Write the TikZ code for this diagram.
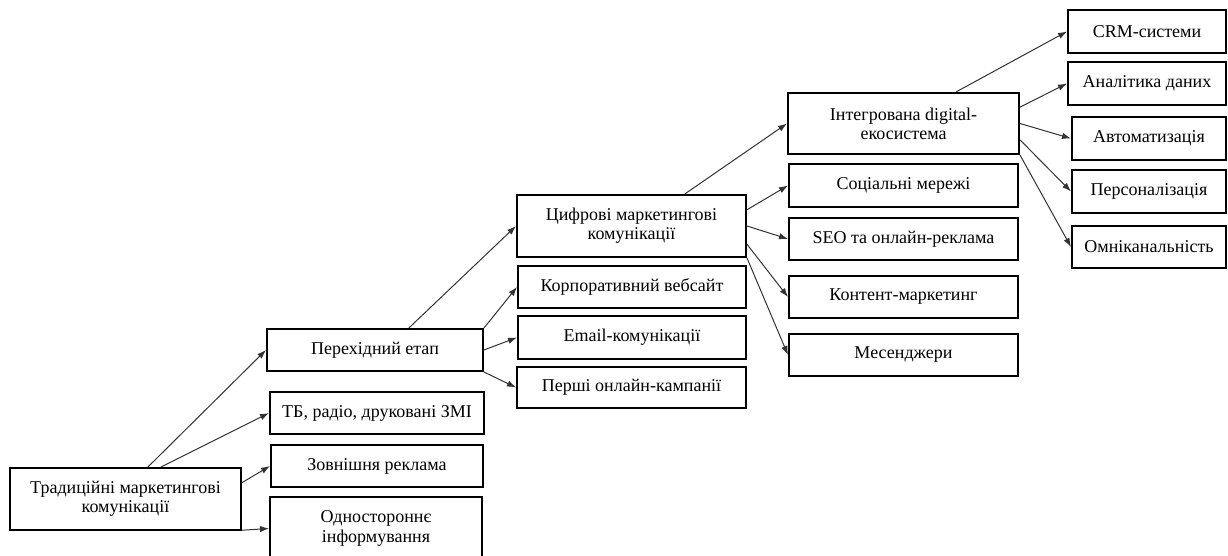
\documentclass[tikz,border=0pt]{standalone}
\usepackage{fontspec}
\setmainfont{Liberation Serif}
\usetikzlibrary{arrows.meta}

\tikzset{
  box/.style={draw, line width=1pt, align=center, inner sep=1pt,
    font=\fontsize{9}{9.6}\selectfont},
  link/.style={-{Latex[length=4.5pt,width=3.2pt]}, line width=0.5pt, draw=black!80}
}

\begin{document}
\begin{tikzpicture}[x=0.5pt, y=-0.5pt]
            \useasboundingbox (0, 0) rectangle (1228, 556);

            % stage 1
            \node[box, minimum width=115.5pt, minimum height=31pt] (trad) at (125.5, 499) {Традиційні маркетингові\\комунікації};
            \node[box, minimum width=107pt, minimum height=21pt] (tv) at (377, 413) {ТБ, радіо, друковані ЗМІ};
            \node[box, minimum width=106pt, minimum height=21pt] (outdoor) at (377, 466) {Зовнішня реклама};
            \node[box, minimum width=106pt, minimum height=31.5pt] (oneway) at (376, 528.5) {Одностороннє\\інформування};

            % stage 2
            \node[box, minimum width=108pt, minimum height=21pt] (trans) at (375, 350) {Перехідний етап};
            \node[box, minimum width=114pt, minimum height=21pt] (web) at (632, 287) {Корпоративний вебсайт};
            \node[box, minimum width=114pt, minimum height=21.5pt] (email) at (632, 337.5) {Email-комунікації};
            \node[box, minimum width=114.5pt, minimum height=20.5pt] (first) at (631.5, 387.5) {Перші онлайн-кампанії};

            % stage 3
            \node[box, minimum width=114.5pt, minimum height=31pt] (digital) at (631.5, 226) {Цифрові маркетингові\\комунікації};
            \node[box, minimum width=114.5pt, minimum height=21.5pt] (social) at (903.5, 185.5) {Соціальні мережі};
            \node[box, minimum width=114.5pt, minimum height=21pt] (seo) at (903.5, 239) {SEO та онлайн-реклама};
            \node[box, minimum width=114.5pt, minimum height=21pt] (content) at (903.5, 297) {Контент-маркетинг};
            \node[box, minimum width=114.5pt, minimum height=21pt] (msg) at (903.5, 355) {Месенджери};

            % stage 4
            \node[box, minimum width=115.5pt, minimum height=30.5pt] (eco) at (903.5, 123.5) {Інтегрована digital-\\екосистема};
            \node[box, minimum width=79pt, minimum height=21.5pt] (crm) at (1147, 31.5) {CRM-системи};
            \node[box, minimum width=79pt, minimum height=21.5pt] (data) at (1147, 83.5) {Аналітика даних};
            \node[box, minimum width=77pt, minimum height=21.5pt] (auto) at (1149, 138.5) {Автоматизація};
            \node[box, minimum width=77pt, minimum height=21.5pt] (pers) at (1149, 191.5) {Персоналізація};
            \node[box, minimum width=77pt, minimum height=21pt] (omni) at (1149, 247) {Омніканальність};

            \draw[link] (trad.55) -- (trans.west);
            \draw[link] (trad.42) -- (tv.west);
            \draw[link] (trad.8) -- (outdoor.west);
            \draw[link] (trad.345) -- (oneway.west);

            \draw[link] (trans.33) -- (digital.west);
            \draw[link] (trans.north east) -- (web.west);
            \draw[link] (trans.east) -- (email.west);
            \draw[link] (trans.south east) -- (first.west);

            \draw[link] (digital.31) -- (eco.west);
            \draw[link] (digital.8) -- (social.west);
            \draw[link] (digital.east) -- (seo.west);
            \draw[link] (digital.351) -- (content.west);
            \draw[link] (digital.south east) -- (msg.west);

            \draw[link] (eco.31) -- (crm.west);
            \draw[link] (eco.8) -- (data.west);
            \draw[link] (eco.east) -- (auto.west);
            \draw[link] (eco.352) -- (pers.west);
            \draw[link] (eco.south east) -- (omni.west);
        \end{tikzpicture}
\end{document}
